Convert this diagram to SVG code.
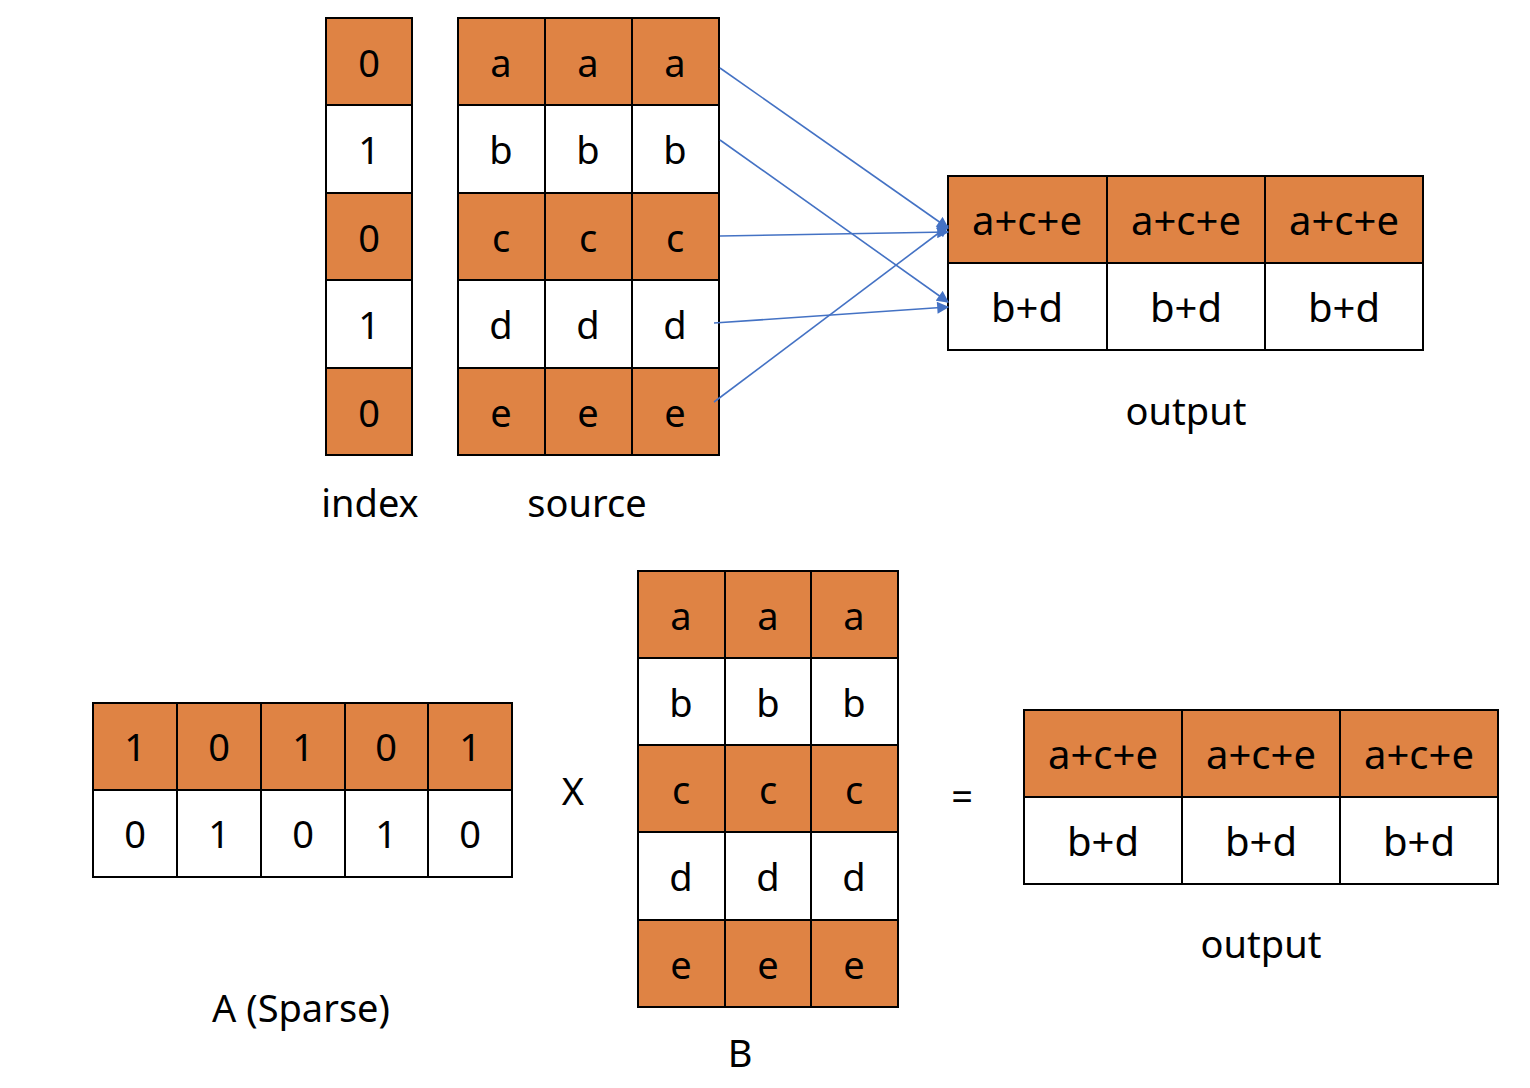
<svg xmlns="http://www.w3.org/2000/svg" width="1530" height="1088" viewBox="0 0 1530 1088">
  <style>
    .o { fill: #DF8344; stroke: #000; stroke-width: 2; }
    .w { fill: #FFFFFF; stroke: #000; stroke-width: 2; }
    text { font-family: "Noto Sans", "Open Sans", sans-serif; font-size: 38px; fill: #000; text-anchor: middle; }
    .sum { font-size: 40px; }
    .arr { stroke: #4472C4; stroke-width: 1.6; fill: none; marker-end: url(#head); }
  </style>
  <defs>
    <marker id="head" viewBox="0 0 10 10" refX="9" refY="5" markerWidth="13" markerHeight="12" orient="auto" markerUnits="userSpaceOnUse">
      <path d="M0,0 L10,5 L0,10 z" fill="#4472C4"/>
    </marker>
  </defs>
  <rect width="1530" height="1088" fill="#FFFFFF"/>

  <!-- index column -->
  <g id="index">
    <rect class="o" x="326" y="18" width="86" height="87"/>
    <rect class="w" x="326" y="105" width="86" height="88"/>
    <rect class="o" x="326" y="193" width="86" height="87"/>
    <rect class="w" x="326" y="280" width="86" height="88"/>
    <rect class="o" x="326" y="368" width="86" height="87"/>
    <text x="369" y="77">0</text>
    <text x="369" y="164">1</text>
    <text x="369" y="252">0</text>
    <text x="369" y="339">1</text>
    <text x="369" y="427">0</text>
    <text x="370" y="517">index</text>
  </g>

  <!-- source matrix -->
  <g id="source">
    <rect class="o" x="458" y="18" width="87" height="87"/><rect class="o" x="545" y="18" width="87" height="87"/><rect class="o" x="632" y="18" width="87" height="87"/>
    <rect class="w" x="458" y="105" width="87" height="88"/><rect class="w" x="545" y="105" width="87" height="88"/><rect class="w" x="632" y="105" width="87" height="88"/>
    <rect class="o" x="458" y="193" width="87" height="87"/><rect class="o" x="545" y="193" width="87" height="87"/><rect class="o" x="632" y="193" width="87" height="87"/>
    <rect class="w" x="458" y="280" width="87" height="88"/><rect class="w" x="545" y="280" width="87" height="88"/><rect class="w" x="632" y="280" width="87" height="88"/>
    <rect class="o" x="458" y="368" width="87" height="87"/><rect class="o" x="545" y="368" width="87" height="87"/><rect class="o" x="632" y="368" width="87" height="87"/>
    <text x="501" y="77">a</text><text x="588" y="77">a</text><text x="675" y="77">a</text>
    <text x="501" y="164">b</text><text x="588" y="164">b</text><text x="675" y="164">b</text>
    <text x="501" y="252">c</text><text x="588" y="252">c</text><text x="675" y="252">c</text>
    <text x="501" y="339">d</text><text x="588" y="339">d</text><text x="675" y="339">d</text>
    <text x="501" y="427">e</text><text x="588" y="427">e</text><text x="675" y="427">e</text>
    <text x="587" y="517">source</text>
  </g>

  <!-- top output -->
  <g id="output-top">
    <rect class="o" x="948" y="176" width="159" height="87"/><rect class="o" x="1107" y="176" width="158" height="87"/><rect class="o" x="1265" y="176" width="158" height="87"/>
    <rect class="w" x="948" y="263" width="159" height="87"/><rect class="w" x="1107" y="263" width="158" height="87"/><rect class="w" x="1265" y="263" width="158" height="87"/>
    <text class="sum" x="1027" y="235">a+c+e</text><text class="sum" x="1186" y="235">a+c+e</text><text class="sum" x="1344" y="235">a+c+e</text>
    <text class="sum" x="1027" y="322">b+d</text><text class="sum" x="1186" y="322">b+d</text><text class="sum" x="1344" y="322">b+d</text>
    <text x="1186" y="425">output</text>
  </g>

  <!-- scatter connectors -->
  <g id="connectors">
    <line class="arr" x1="720" y1="68" x2="948" y2="228"/>
    <line class="arr" x1="720" y1="140" x2="948" y2="302"/>
    <line class="arr" x1="720" y1="236" x2="948" y2="232"/>
    <line class="arr" x1="714" y1="323" x2="948" y2="307"/>
    <line class="arr" x1="714" y1="402" x2="948" y2="226"/>
  </g>

  <!-- sparse matrix A -->
  <g id="matrix-a">
    <rect class="o" x="93" y="703" width="84" height="87"/><rect class="o" x="177" y="703" width="84" height="87"/><rect class="o" x="261" y="703" width="84" height="87"/><rect class="o" x="345" y="703" width="83" height="87"/><rect class="o" x="428" y="703" width="84" height="87"/>
    <rect class="w" x="93" y="790" width="84" height="87"/><rect class="w" x="177" y="790" width="84" height="87"/><rect class="w" x="261" y="790" width="84" height="87"/><rect class="w" x="345" y="790" width="83" height="87"/><rect class="w" x="428" y="790" width="84" height="87"/>
    <text x="135" y="761">1</text><text x="219" y="761">0</text><text x="303" y="761">1</text><text x="386" y="761">0</text><text x="470" y="761">1</text>
    <text x="135" y="848">0</text><text x="219" y="848">1</text><text x="303" y="848">0</text><text x="386" y="848">1</text><text x="470" y="848">0</text>
    <text x="301" y="1022">A (Sparse)</text>
  </g>

  <text id="times" x="573" y="805">X</text>

  <!-- dense matrix B -->
  <g id="matrix-b">
    <rect class="o" x="638" y="571" width="87" height="87"/><rect class="o" x="725" y="571" width="86" height="87"/><rect class="o" x="811" y="571" width="87" height="87"/>
    <rect class="w" x="638" y="658" width="87" height="87"/><rect class="w" x="725" y="658" width="86" height="87"/><rect class="w" x="811" y="658" width="87" height="87"/>
    <rect class="o" x="638" y="745" width="87" height="87"/><rect class="o" x="725" y="745" width="86" height="87"/><rect class="o" x="811" y="745" width="87" height="87"/>
    <rect class="w" x="638" y="832" width="87" height="88"/><rect class="w" x="725" y="832" width="86" height="88"/><rect class="w" x="811" y="832" width="87" height="88"/>
    <rect class="o" x="638" y="920" width="87" height="87"/><rect class="o" x="725" y="920" width="86" height="87"/><rect class="o" x="811" y="920" width="87" height="87"/>
    <text x="681" y="630">a</text><text x="768" y="630">a</text><text x="854" y="630">a</text>
    <text x="681" y="717">b</text><text x="768" y="717">b</text><text x="854" y="717">b</text>
    <text x="681" y="804">c</text><text x="768" y="804">c</text><text x="854" y="804">c</text>
    <text x="681" y="891">d</text><text x="768" y="891">d</text><text x="854" y="891">d</text>
    <text x="681" y="979">e</text><text x="768" y="979">e</text><text x="854" y="979">e</text>
    <text x="740" y="1067">B</text>
  </g>

  <text id="equals" x="962" y="810">=</text>

  <!-- bottom output -->
  <g id="output-bottom">
    <rect class="o" x="1024" y="710" width="158" height="87"/><rect class="o" x="1182" y="710" width="158" height="87"/><rect class="o" x="1340" y="710" width="158" height="87"/>
    <rect class="w" x="1024" y="797" width="158" height="87"/><rect class="w" x="1182" y="797" width="158" height="87"/><rect class="w" x="1340" y="797" width="158" height="87"/>
    <text class="sum" x="1103" y="769">a+c+e</text><text class="sum" x="1261" y="769">a+c+e</text><text class="sum" x="1419" y="769">a+c+e</text>
    <text class="sum" x="1103" y="856">b+d</text><text class="sum" x="1261" y="856">b+d</text><text class="sum" x="1419" y="856">b+d</text>
    <text x="1261" y="958">output</text>
  </g>
</svg>
